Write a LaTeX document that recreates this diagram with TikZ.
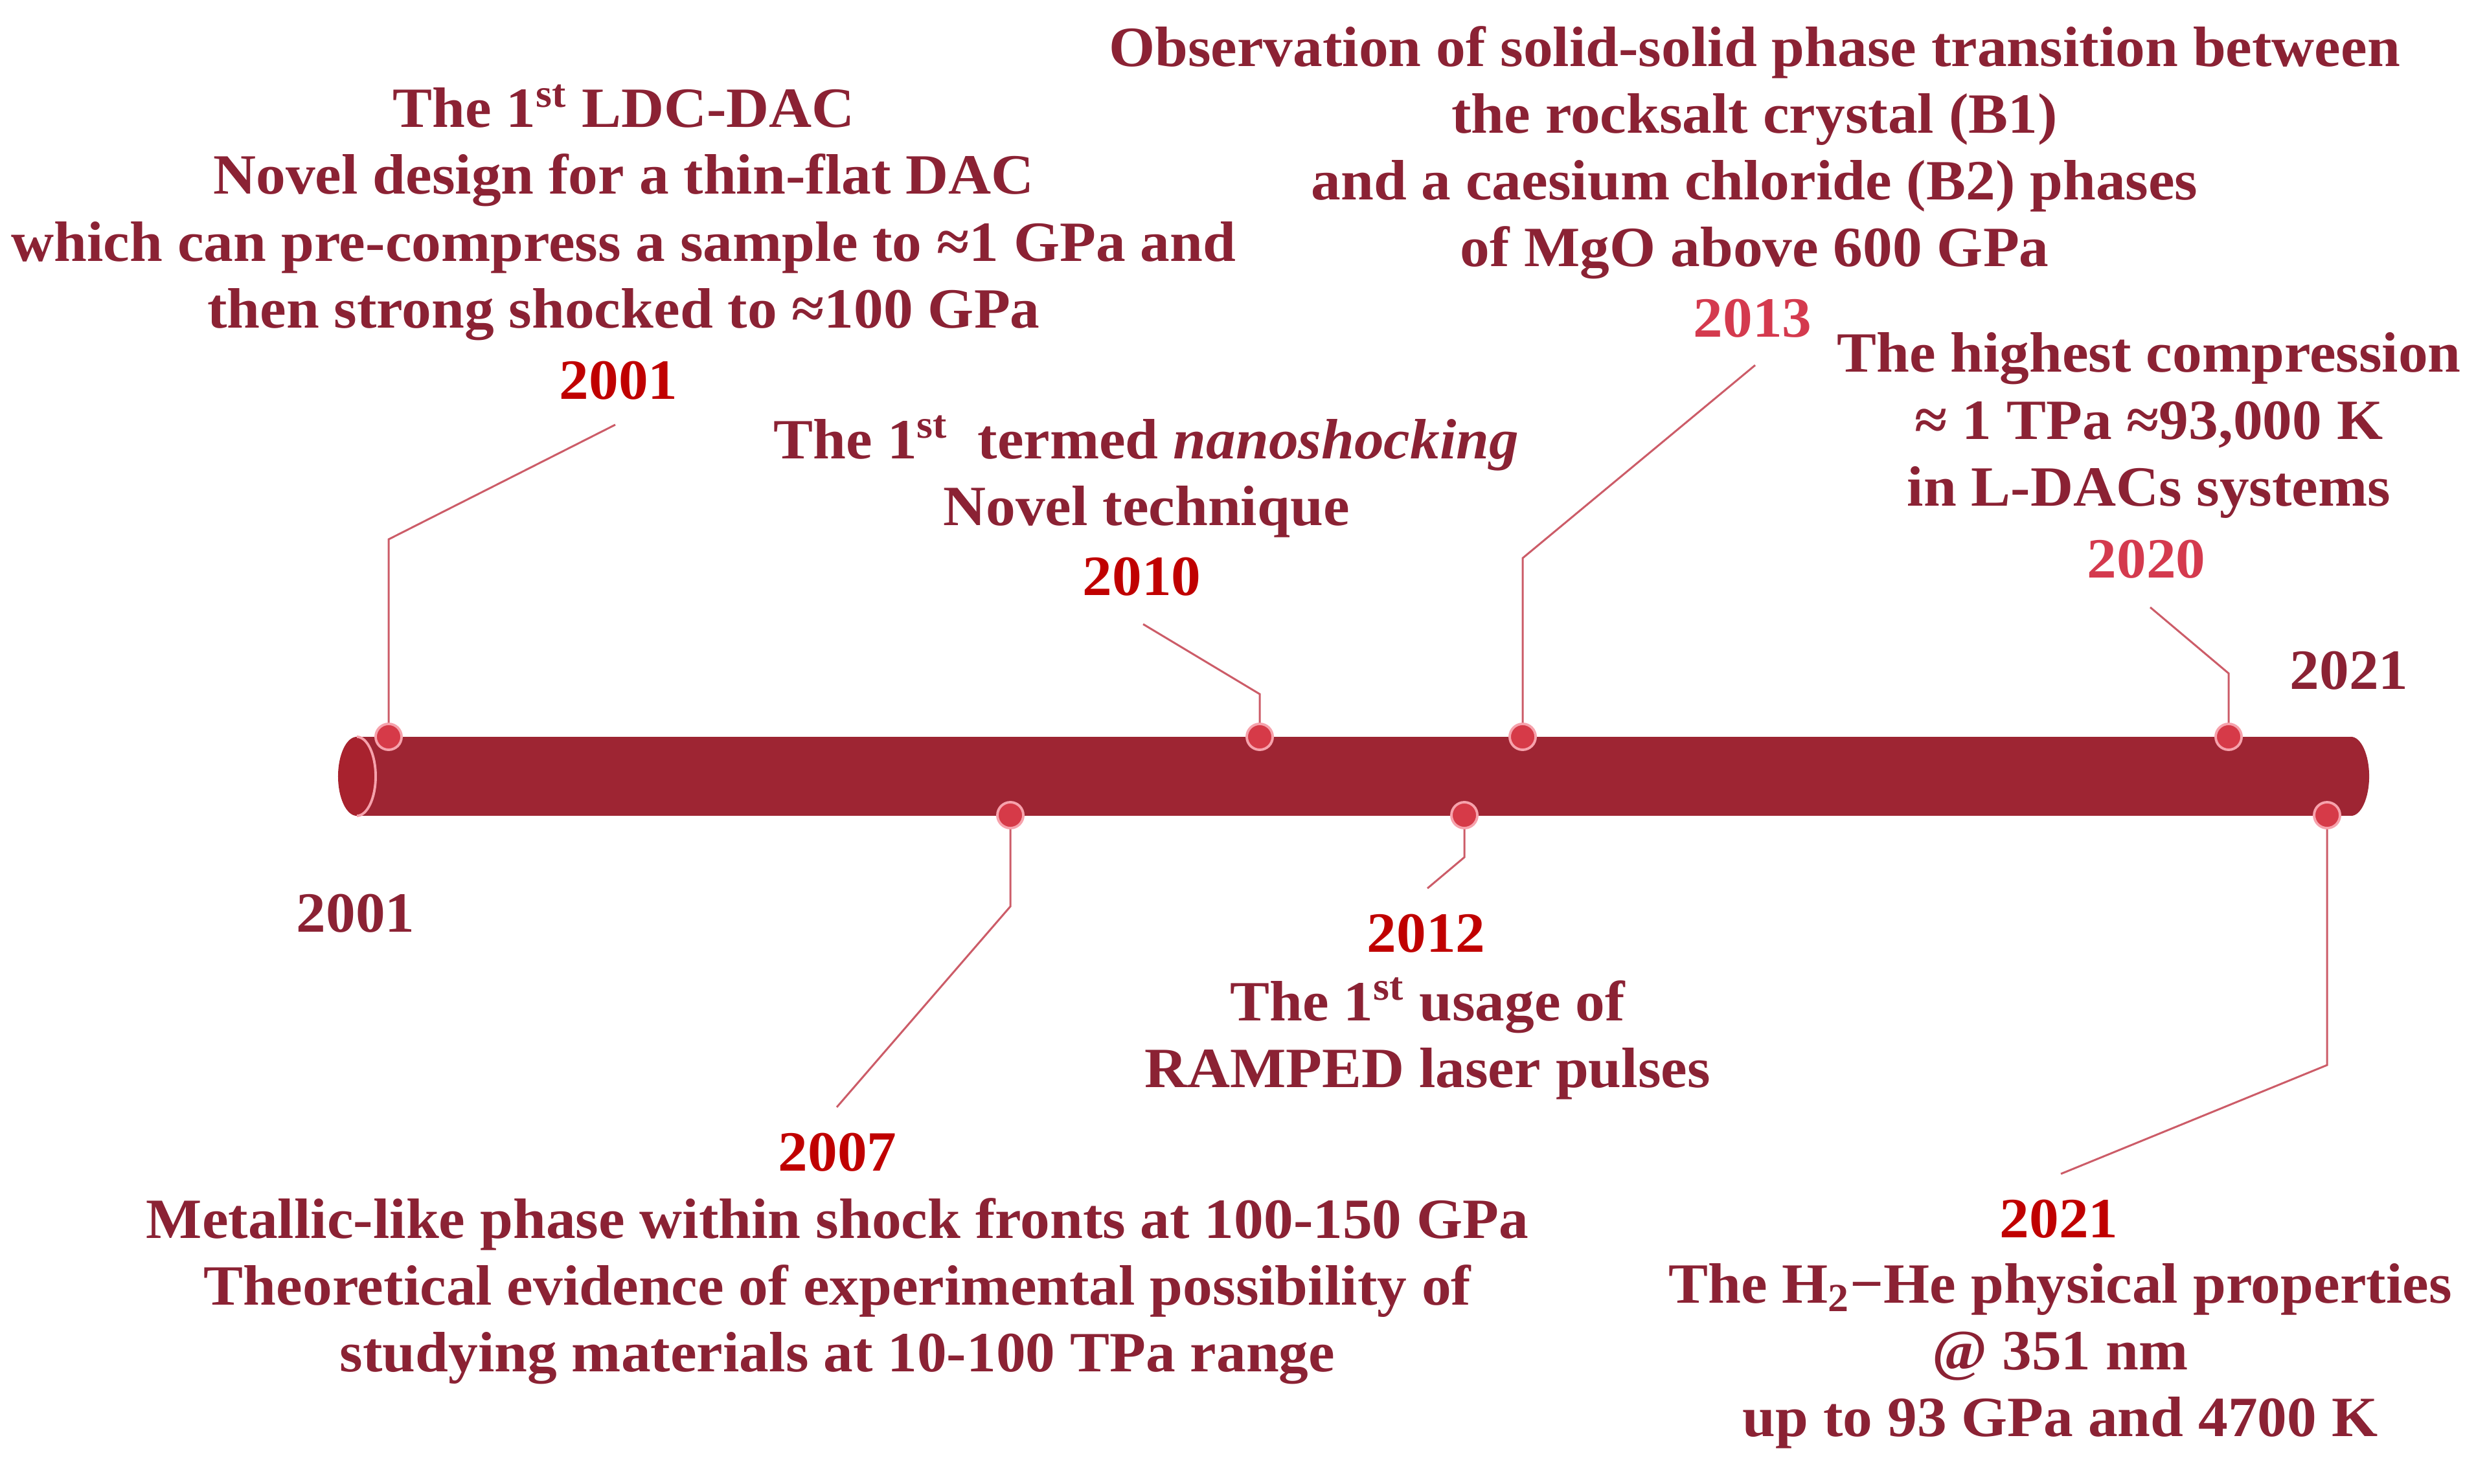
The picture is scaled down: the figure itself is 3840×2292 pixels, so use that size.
\documentclass[tikz,border=0pt]{standalone}
\usepackage{fontspec}
\setmainfont{Liberation Serif}[FakeStretch=1.04]
\begin{document}
\begin{tikzpicture}[x=0.01cm,y=-0.01cm]
\definecolor{txtc}{RGB}{139,34,52}
\definecolor{redyr}{RGB}{192,0,0}
\definecolor{pinkyr}{RGB}{212,58,78}
\definecolor{barc}{RGB}{158,37,51}
\definecolor{endc}{RGB}{168,34,46}
\definecolor{dotc}{RGB}{214,58,72}
\definecolor{dotring}{RGB}{246,162,172}
\definecolor{leadc}{RGB}{204,92,104}
\tikzset{
  txt/.style={text=txtc,font=\bfseries\fontsize{25}{29.3}\selectfont,align=center,inner sep=0pt},
  yrred/.style={txt,text=redyr},
  yrpink/.style={txt,text=pinkyr},
  dot/.style={circle,fill=dotc,draw=dotring,line width=1.1pt,minimum size=0.40cm,inner sep=0pt},
  leader/.style={draw=leadc,line width=0.85pt}
}
\useasboundingbox (0,0) rectangle (3840,2292);
% bar
\fill[barc] (3630,1199) ellipse [x radius=0.28cm,y radius=0.61cm];
\fill[barc] (551,1138) rectangle (3630,1260);
\fill[endc] (551,1199) ellipse [x radius=0.29cm,y radius=0.61cm];
\begin{scope}
\clip (551,1100) rectangle (620,1300);
\draw[dotring,line width=1.1pt] (551,1199) ellipse [x radius=0.29cm,y radius=0.61cm];
\end{scope}
% coordinates of leader bends and ends
\coordinate (k2001) at (600,833);   \coordinate (e2001) at (950,656);
\coordinate (k2010) at (1945,1072); \coordinate (e2010) at (1765,964);
\coordinate (k2013) at (2351,862);  \coordinate (e2013) at (2710,564);
\coordinate (k2020) at (3441,1040); \coordinate (e2020) at (3320,938);
\coordinate (k2007) at (1560,1400); \coordinate (e2007) at (1292,1710);
\coordinate (k2012) at (2261,1324); \coordinate (e2012) at (2204,1372);
\coordinate (k2021) at (3593,1645); \coordinate (e2021) at (3182,1813);
% dots
\node[dot] (d2001) at (600,1138) {};
\node[dot] (d2010) at (1945,1138) {};
\node[dot] (d2013) at (2351,1138) {};
\node[dot] (d2020) at (3441,1138) {};
\node[dot] (d2007) at (1560,1259) {};
\node[dot] (d2012) at (2261,1259) {};
\node[dot] (d2021) at (3593,1259) {};
% leaders
\draw[leader] (d2001) -- (k2001) -- (e2001);
\draw[leader] (d2010) -- (k2010) -- (e2010);
\draw[leader] (d2013) -- (k2013) -- (e2013);
\draw[leader] (d2020) -- (k2020) -- (e2020);
\draw[leader] (d2007) -- (k2007) -- (e2007);
\draw[leader] (d2012) -- (k2012) -- (e2012);
\draw[leader] (d2021) -- (k2021) -- (e2021);
% texts
\node[txt] (b2001) at (963,328) {The 1\textsuperscript{st} LDC-DAC\\Novel design for a thin-flat DAC\\which can pre-compress a sample to ≈1 GPa and\\then strong shocked to ≈100 GPa};
\node[yrred] (y2001) at (955,588) {2001};
\node[txt] (b2013) at (2709,236) {Observation of solid-solid phase transition between\\the rocksalt crystal (B1)\\and a caesium chloride (B2) phases\\of MgO above 600 GPa};
\node[yrpink] (y2013) at (2706,492) {2013};
\node[txt] (b2010) at (1770,736) {The 1\textsuperscript{st}\ \ termed \textit{nanoshocking}\\Novel technique};
\node[yrred] (y2010) at (1763,891) {2010};
\node[txt] (b2020) at (3318,657) {The highest compression\\≈ 1 TPa ≈93,000 K\\in L-DACs systems};
\node[yrpink] (y2020) at (3314,864) {2020};
\node[txt] (yend) at (3627,1036) {2021};
\node[txt] (ystart) at (549,1411) {2001};
\node[yrred] (y2012) at (2202,1442) {2012};
\node[txt] (b2012) at (2204,1604) {The 1\textsuperscript{st} usage of\\RAMPED laser pulses};
\node[yrred] (y2007) at (1293,1780) {2007};
\node[txt] (b2007) at (1293,1994) {Metallic-like phase within shock fronts at 100-150 GPa\\Theoretical evidence of experimental possibility of\\studying materials at 10-100 TPa range};
\node[yrred] (y2021) at (3179,1883) {2021};
\node[txt] (b2021) at (3181,2094) {The H\textsubscript{2}−He physical properties\\@ 351 nm\\up to 93 GPa and 4700 K};
\end{tikzpicture}
\end{document}
